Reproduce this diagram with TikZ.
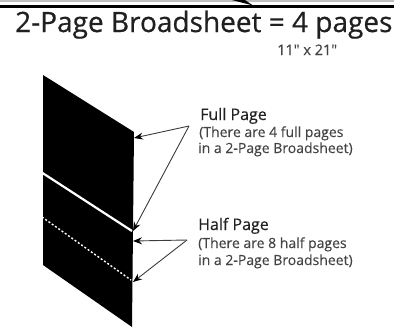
\documentclass[tikz,border=0pt]{standalone}
\usepackage{fontspec}
\setmainfont{Open Sans}
\newfontfamily\heavyfont[FakeBold=0.6]{Open Sans}
\newfontfamily\midfont[FakeBold=0.3]{Open Sans}
\usetikzlibrary{arrows.meta}
\definecolor{txt}{HTML}{202020}
\definecolor{subtxt}{HTML}{444444}
\definecolor{conn}{HTML}{3C3C3C}
\tikzset{
  lbl/.style={anchor=base west, inner sep=0pt, text=subtxt},
  ptr/.style={draw=conn, line width=0.9pt, -{Stealth[length=9pt,width=7pt,inset=3pt,fill=black,color=black]}},
}
\begin{document}
\begin{tikzpicture}[x=1pt,y=-1pt]
\useasboundingbox (0,0) rectangle (394,335);
% top rules
\draw[line width=2pt, draw=black!25] (0,1) -- (394,1);
\draw[line width=3pt, draw=black] (0,6.5) -- (394,6.5);
\fill[black] (232,0) -- (253,5.5) -- (245,0) -- cycle;
% title
\node[anchor=base west, inner sep=0pt, text=txt, font=\heavyfont\fontsize{28}{32}\selectfont] (title) at (15,32) {2-Page Broadsheet = 4 pages};
\node[anchor=base west, inner sep=0pt, text=subtxt, font=\midfont\fontsize{14.5}{16}\selectfont] (size) at (277,55) {11\char"22{} x 21\char"22};
% sheet
\fill[black] (43,75) -- (134,132) -- (132,327) -- (43,265) -- cycle;
\coordinate (fold1a) at (41,172);
\coordinate (fold1b) at (132,231);
\draw[white, line width=2.2pt] (fold1a) -- (fold1b);
\coordinate (fold2a) at (42,217);
\coordinate (fold2b) at (131,280);
\draw[white, line width=1.4pt, dash pattern=on 2pt off 2pt] (fold2a) -- (fold2b);
% labels
\node[lbl, text=txt, font=\midfont\fontsize{16}{18}\selectfont] (full) at (200,120) {Full Page};
\node[lbl, font=\midfont\fontsize{14}{16}\selectfont] (fullA) at (199,137) {(There are 4 full pages};
\node[lbl, font=\midfont\fontsize{14}{16}\selectfont] (fullB) at (198,153) {in a 2-Page Broadsheet)};
\node[lbl, text=txt, font=\midfont\fontsize{16}{18}\selectfont] (half) at (198,230) {Half Page};
\node[lbl, font=\midfont\fontsize{14}{16}\selectfont] (halfA) at (198,248) {(There are 8 half pages};
\node[lbl, font=\midfont\fontsize{14}{16}\selectfont] (halfB) at (198,265) {in a 2-Page Broadsheet)};
% connectors
\coordinate (apexF) at (189,126);
\coordinate (apexH) at (187,240);
\coordinate (tF1) at (134,138);
\coordinate (tF2) at (133,231);
\coordinate (tH1) at (133,241);
\coordinate (tH2) at (133,282);
\draw[ptr] (apexF) -- (tF1);
\draw[ptr] (apexF) -- (tF2);
\draw[ptr] (apexH) -- (tH1);
\draw[ptr] (apexH) -- (tH2);
\end{tikzpicture}
\end{document}
